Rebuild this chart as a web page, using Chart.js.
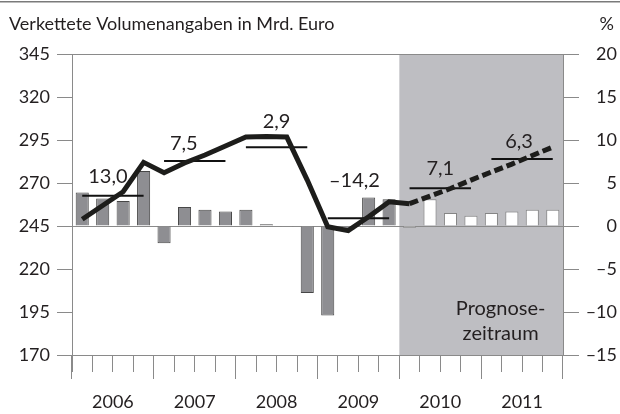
<!DOCTYPE html>
<html>
<head>
<meta charset="utf-8">
<script src="https://cdn.jsdelivr.net/npm/chart.js@4/dist/chart.umd.min.js"></script>
<style>
  html, body { margin: 0; padding: 0; background: #fff; }
  #wrap { width: 620px; height: 414px; position: relative; }
</style>
</head>
<body>
<div id="wrap"><canvas id="chart"></canvas></div>
<script>
// quarterly categories, 2006 to 2011
var quarters = [
  '2006 Q1', '2006 Q2', '2006 Q3', '2006 Q4',
  '2007 Q1', '2007 Q2', '2007 Q3', '2007 Q4',
  '2008 Q1', '2008 Q2', '2008 Q3', '2008 Q4',
  '2009 Q1', '2009 Q2', '2009 Q3', '2009 Q4',
  '2010 Q1', '2010 Q2', '2010 Q3', '2010 Q4',
  '2011 Q1', '2011 Q2', '2011 Q3', '2011 Q4'
];
var years = ['2006', '2007', '2008', '2009', '2010', '2011'];

// chained volume, bn euro (left axis)
var volume = [
  248.9, 256.9, 264.9, 282.0,
  276.0, 281.6, 286.3, 291.5,
  296.7, 297.0, 296.7, 271.7,
  244.6, 242.3, 250.4, 259.1,
  258.0, 262.4, 266.8, 271.7,
  276.4, 281.0, 286.0, 290.9
];
// change on previous year's quarter, % (right axis)
var change = [
  3.9, 3.2, 2.9, 6.4,
  -2.0, 2.2, 1.9, 1.7,
  1.9, 0.2, -0.1, -7.8,
  -10.4, -0.4, 3.3, 3.1,
  -0.2, 3.1, 1.5, 1.2,
  1.5, 1.7, 1.9, 1.9
];
// annual level (left axis) and annual change labels
var annualLevel = [262.6, 282.8, 290.8, 249.5, 266.9, 284.0];
var annualChange = ['13,0', '7,5', '2,9', '\u201314,2', '7,1', '6,3'];

var leftMin = 170, leftMax = 345, leftStep = 25;
var rightMin = -15, rightMax = 20, rightStep = 5;
var forecastFrom = 16; // first forecast quarter (2010 Q1 onwards is shaded)

// layout tweaks for the annual labels
var labelDx = [-5, -11, 0, -4, 0, -3];
var labelLift = [13, 11, 19, 31, 13, 11];

var ink = '#231f20';
var axisGrey = '#8a8a8a';
var font = 'Lato';

Chart.defaults.font.family = font;
Chart.defaults.color = ink;

var annualLine = quarters.map(function (q, i) { return annualLevel[Math.floor(i / 4)]; });

var decorations = {
  id: 'decorations',
  beforeDraw: function (chart) {
    var ctx = chart.ctx, x = chart.scales.x, a = chart.chartArea;
    var left = (x.getPixelForValue(forecastFrom - 1) + x.getPixelForValue(forecastFrom)) / 2;
    ctx.save();
    ctx.fillStyle = '#bebec2';
    ctx.fillRect(left, a.top, a.right - left, a.bottom - a.top);
    ctx.restore();
  },
  afterDatasetsDraw: function (chart) {
    var ctx = chart.ctx, x = chart.scales.x, y = chart.scales.y, a = chart.chartArea;
    ctx.save();
    ctx.fillStyle = ink;
    ctx.font = '20px ' + font;
    ctx.textAlign = 'center';
    ctx.textBaseline = 'alphabetic';
    annualChange.forEach(function (txt, k) {
      var cx = (x.getPixelForValue(4 * k) + x.getPixelForValue(4 * k + 3)) / 2 + labelDx[k];
      var cy = y.getPixelForValue(annualLevel[k]) - labelLift[k];
      ctx.fillText(txt, cx, cy);
    });
    // forecast note
    var noteX = (x.getPixelForValue(20) + x.getPixelForValue(21)) / 2 - 1;
    ctx.fillText('Prognose-', noteX, a.bottom - 40);
    ctx.fillText('zeitraum', noteX, a.bottom - 15);
    ctx.restore();
  },
  afterDraw: function (chart) {
    var ctx = chart.ctx;
    ctx.save();
    ctx.fillStyle = '#7a7a7a';
    ctx.fillRect(0, 1, chart.width, 1.5);
    ctx.fillStyle = ink;
    ctx.font = '18px ' + font;
    ctx.textBaseline = 'alphabetic';
    ctx.textAlign = 'left';
    ctx.fillText('Verkettete Volumenangaben in Mrd. Euro', 9, 30);
    ctx.textAlign = 'right';
    ctx.fillText('%', 614, 30);
    ctx.restore();
  }
};

new Chart(document.getElementById('chart'), {
  data: {
    labels: quarters,
    datasets: [
      {
        type: 'line',
        data: volume,
        yAxisID: 'y',
        order: 1,
        borderColor: '#1d1d1b',
        borderWidth: 5,
        borderJoinStyle: 'miter',
        pointRadius: 0,
        tension: 0,
        segment: {
          borderDash: function (ctx) { return ctx.p0DataIndex >= forecastFrom ? [9, 4] : undefined; }
        }
      },
      {
        type: 'line',
        data: annualLine,
        yAxisID: 'y',
        order: 2,
        borderColor: '#111',
        borderWidth: 2,
        pointRadius: 0,
        segment: {
          borderColor: function (ctx) {
            return Math.floor(ctx.p0DataIndex / 4) !== Math.floor(ctx.p1DataIndex / 4) ? 'rgba(0,0,0,0)' : '#111';
          }
        }
      },
      {
        type: 'bar',
        data: change,
        yAxisID: 'y2',
        order: 3,
        barPercentage: 0.64,
        categoryPercentage: 1,
        borderWidth: 1,
        backgroundColor: function (ctx) { return ctx.dataIndex >= forecastFrom ? '#ffffff' : '#8e8e92'; },
        borderColor: function (ctx) { return ctx.dataIndex >= forecastFrom ? '#858585' : '#474747'; }
      }
    ]
  },
  options: {
    responsive: true,
    maintainAspectRatio: false,
    animation: false,
    devicePixelRatio: 1,
    layout: { padding: { top: 54, right: 3, left: 0, bottom: 0 } },
    plugins: { legend: { display: false }, tooltip: { enabled: false } },
    scales: {
      x: {
        type: 'category',
        position: 'bottom',
        weight: 0,
        offset: true,
        grid: { offset: true, drawOnChartArea: false, tickLength: 17, color: axisGrey },
        border: { display: true, color: axisGrey },
        ticks: { display: false },
        afterFit: function (s) { s.height = 0; }
      },
      years: {
        type: 'category',
        axis: 'x',
        position: 'bottom',
        weight: 1,
        labels: years,
        offset: true,
        grid: { offset: true, drawOnChartArea: false, tickLength: 24, color: axisGrey },
        border: { display: false },
        ticks: { padding: 12, maxRotation: 0, autoSkip: false, font: { size: 18 }, color: ink },
        afterFit: function (s) { s.height = 59; }
      },
      y: {
        position: 'left',
        min: leftMin,
        max: leftMax,
        ticks: { stepSize: leftStep, padding: 7, font: { size: 18 }, color: ink },
        grid: {
          tickLength: 15,
          tickColor: axisGrey,
          color: function (ctx) { return ctx.tick && ctx.tick.value === leftMax ? axisGrey : 'rgba(0,0,0,0)'; }
        },
        border: { color: axisGrey },
        afterFit: function (s) { s.width = 72; }
      },
      y2: {
        position: 'right',
        min: rightMin,
        max: rightMax,
        ticks: {
          stepSize: rightStep,
          padding: 4,
          crossAlign: 'far',
          font: { size: 18 },
          color: ink,
          callback: function (v) { return v < 0 ? '\u2013' + Math.abs(v) : String(v); }
        },
        grid: {
          tickLength: 16,
          tickColor: axisGrey,
          color: function (ctx) { return ctx.tick && ctx.tick.value === 0 ? axisGrey : 'rgba(0,0,0,0)'; }
        },
        border: { color: axisGrey },
        afterFit: function (s) { s.width = 54; }
      }
    }
  },
  plugins: [decorations]
});
</script>
</body>
</html>
